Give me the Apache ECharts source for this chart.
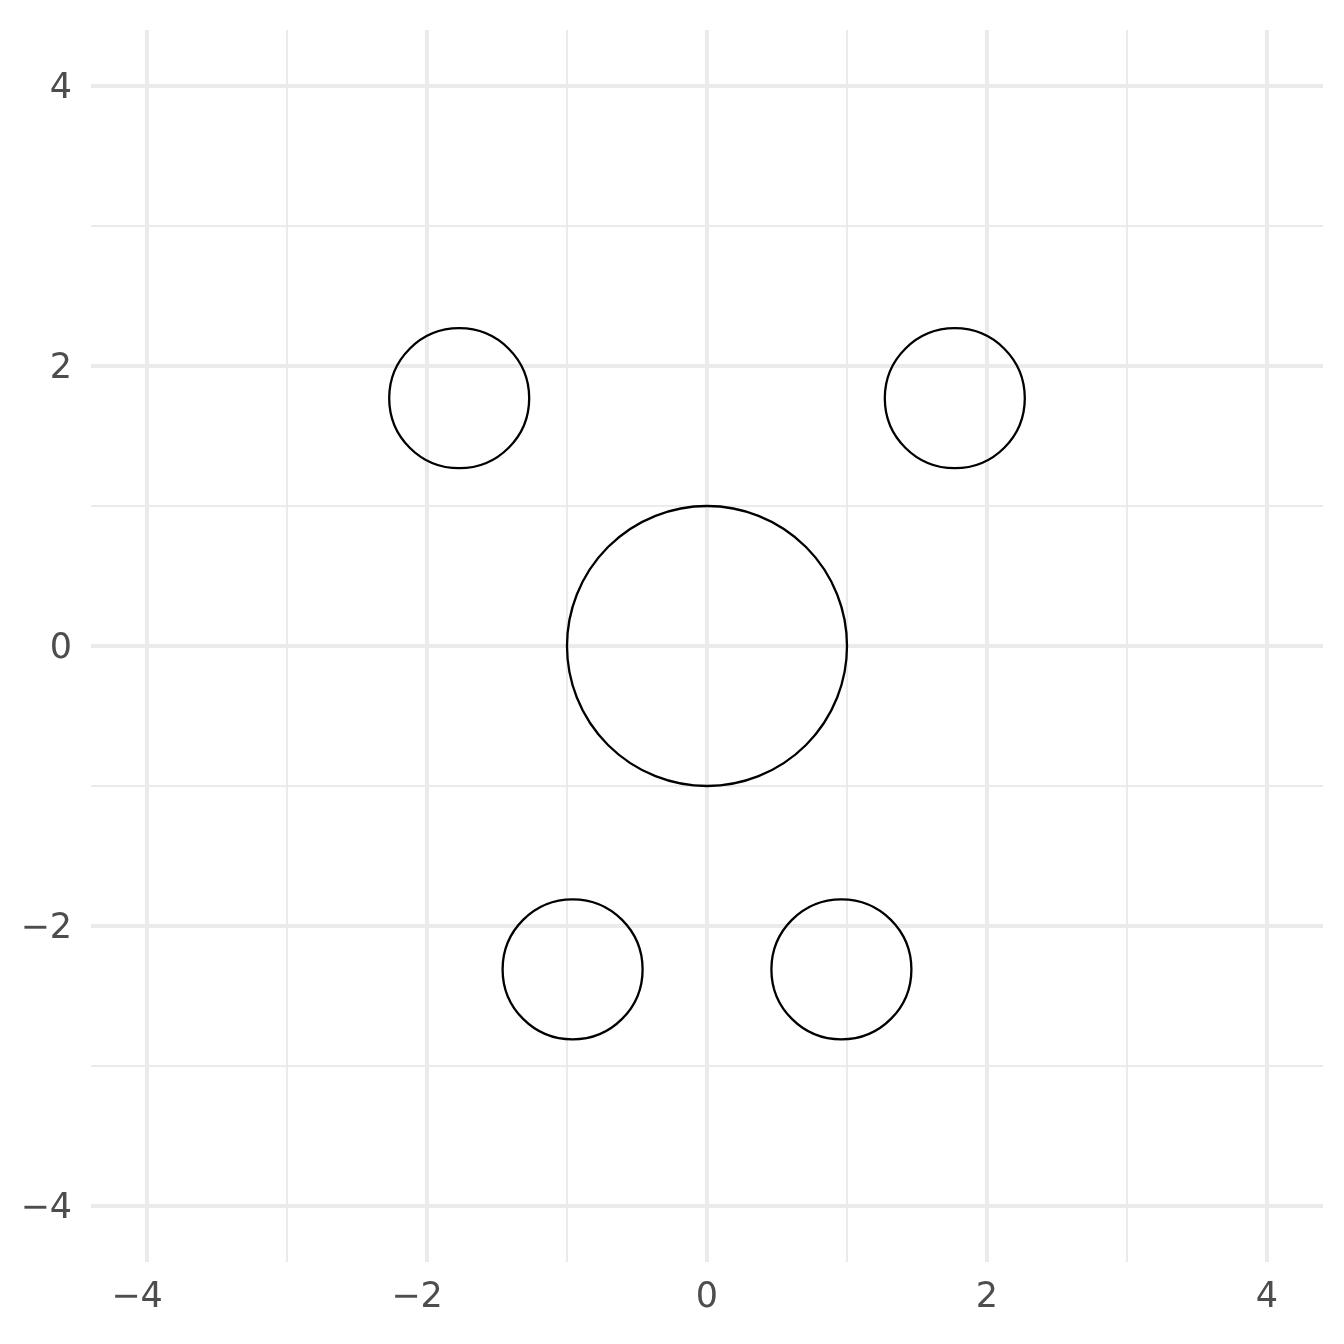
<!DOCTYPE html>
<html>
<head>
<meta charset="utf-8">
<script src="https://cdn.jsdelivr.net/npm/echarts@6/dist/echarts.min.js"></script>
<style>html,body{margin:0;padding:0;background:#fff;}#c{width:1344px;height:1344px;}</style>
</head>
<body>
<div id="c"></div>
<script>
// Data
const circleX = [0, -1.77, 1.77, -0.96, 0.96];
const circleY = [0, 1.77, 1.77, -2.31, -2.31];
const circleR = [1, 0.5, 0.5, 0.5, 0.5];
const majorTicks = [-4, -2, 0, 2, 4];
const minorTicks = [-3, -1, 1, 3];
const axisMin = -4.4, axisMax = 4.4;

const fmt = v => (v < 0 ? '\u2212' + Math.abs(v) : String(v));
const data = circleX.map((x, i) => [x, circleY[i], circleR[i]]);

const font = 'DejaVu Sans';
const txt = {color: '#4D4D4D', fontSize: 35, fontFamily: font};
const chart = echarts.init(document.getElementById('c'), null, {renderer: 'canvas'});

function axis(custom, major, isX) {
  let label = {show: false};
  if (major) {
    label = Object.assign({
      show: true, customValues: custom,
      margin: isX ? 18 : 19
    }, txt);
    if (isX) {
      label.formatter = v => (v < 0 ? '{neg|' + fmt(v) + '}' : '{pos|' + fmt(v) + '}');
      label.rich = {
        neg: Object.assign({padding: [0, 20, 0, 0]}, txt),
        pos: Object.assign({}, txt)
      };
    } else {
      label.formatter = v => '{y|' + fmt(v) + '}';
      label.rich = {
        y: Object.assign({padding: [6, 0, 0, 0]}, txt)
      };
    }
  }
  return {
    type: 'value', min: axisMin, max: axisMax,
    axisLine: {show: false},
    axisTick: {show: false, customValues: custom},
    axisLabel: label,
    splitLine: {show: true, lineStyle: {color: '#EBEBEB', width: major ? 4.2 : 2.1}},
    z: major ? 1 : 0
  };
}

chart.setOption({
  backgroundColor: '#fff',
  animation: false,
  grid: {left: 91, right: 21, top: 30, bottom: 82, containLabel: false},
  xAxis: [axis(majorTicks, true, true), axis(minorTicks, false, true)],
  yAxis: [axis(majorTicks, true, false), axis(minorTicks, false, false)],
  series: [{
    type: 'custom',
    xAxisIndex: 0, yAxisIndex: 0,
    data: data,
    clip: false,
    renderItem: function (params, api) {
      const c = api.coord([api.value(0), api.value(1)]);
      const r = api.size([api.value(2), 0])[0];
      return {
        type: 'circle',
        shape: {cx: c[0], cy: c[1], r: r},
        style: {fill: 'none', stroke: '#000', lineWidth: 2.3}
      };
    }
  }]
});
</script>
</body>
</html>
